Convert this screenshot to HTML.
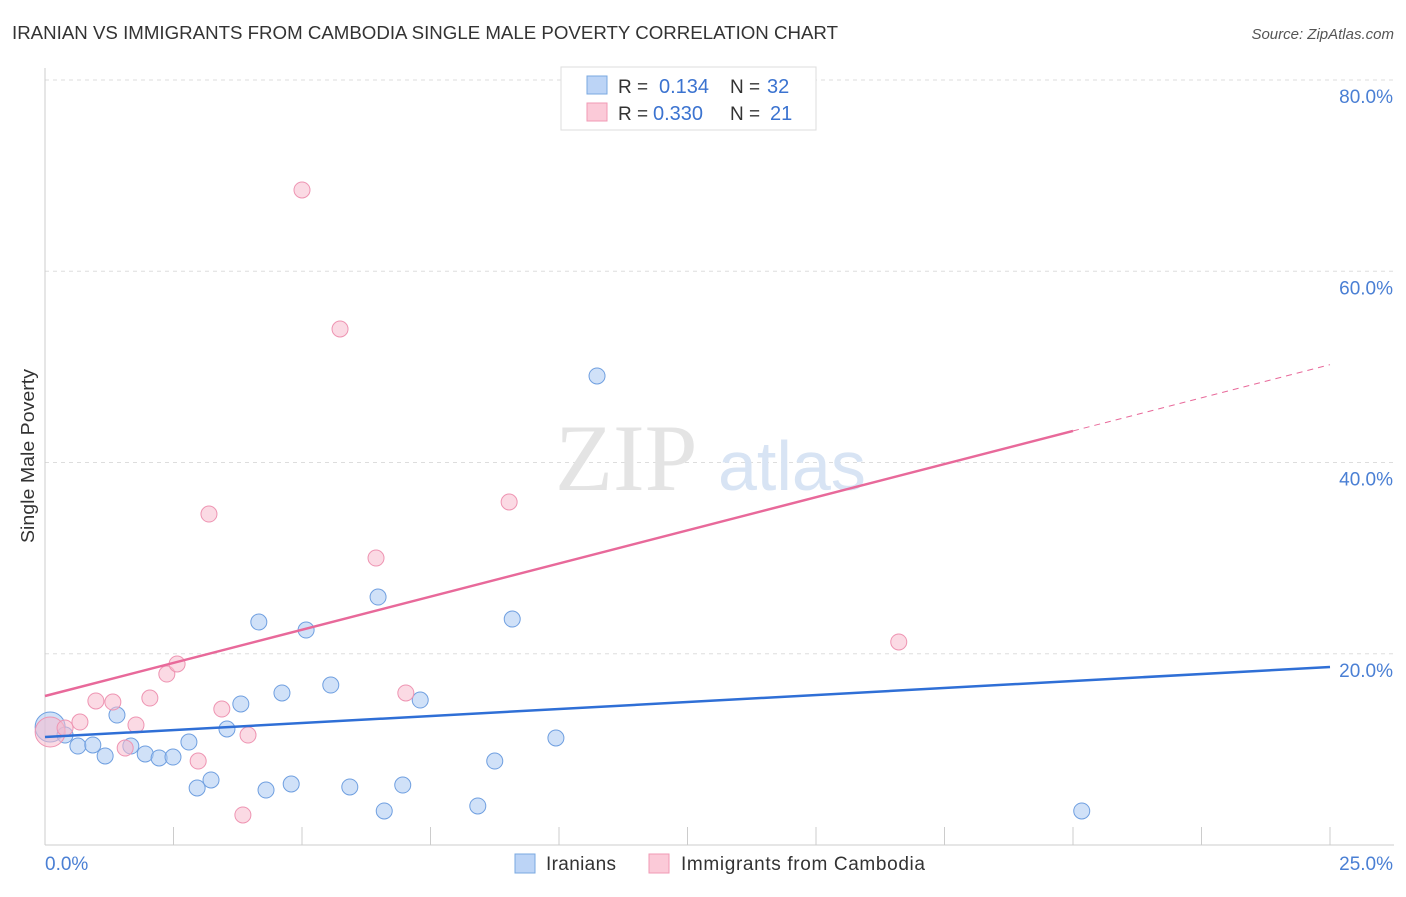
<!DOCTYPE html>
<html><head><meta charset="utf-8"><style>
body{margin:0;background:#fff;font-family:"Liberation Sans",sans-serif;}
</style></head><body>
<svg width="1406" height="892" xmlns="http://www.w3.org/2000/svg" style="font-family:'Liberation Sans',sans-serif">
<text x="12" y="39" font-size="18" fill="#333" textLength="826" lengthAdjust="spacingAndGlyphs">IRANIAN VS IMMIGRANTS FROM CAMBODIA SINGLE MALE POVERTY CORRELATION CHART</text>
<text x="1394" y="39" font-size="15" fill="#555" text-anchor="end" font-style="italic">Source: ZipAtlas.com</text>
<g id="grid"></g>
<line x1="45" y1="68" x2="45" y2="845" stroke="#ccc"/>
<line x1="45" y1="845" x2="1394" y2="845" stroke="#ccc"/>
<g id="ticks"></g>
<text x="34" y="456" font-size="18" fill="#333" text-anchor="middle" transform="rotate(-90 34 456)" textLength="174" lengthAdjust="spacingAndGlyphs">Single Male Poverty</text>
<text x="45" y="870" font-size="19" fill="#4a7fd4">0.0%</text>
<text x="1393" y="870" font-size="19" fill="#4a7fd4" text-anchor="end">25.0%</text>
<text x="555" y="490" font-size="95" fill="#e4e4e4" font-family="Liberation Serif,serif">ZIP</text>
<text x="718" y="490" font-size="70" fill="#d8e4f4">atlas</text>
<g id="pts"></g>
<g id="trend"></g>
<g>
<rect x="561" y="67" width="255" height="63" fill="#fff" stroke="#ddd"/>
<rect x="587" y="76" width="20" height="18" fill="#bcd4f6" stroke="#7aa8e0"/>
<rect x="587" y="103" width="20" height="18" fill="#fbcad8" stroke="#f09ab5"/>
<text x="618" y="93" font-size="19" fill="#333">R = </text><text x="659" y="93" font-size="20" fill="#3b73d0">0.134</text>
<text x="730" y="93" font-size="19" fill="#333">N = </text><text x="767" y="93" font-size="20" fill="#3b73d0">32</text>
<text x="618" y="120" font-size="19" fill="#333">R = </text><text x="653" y="120" font-size="20" fill="#3b73d0">0.330</text>
<text x="730" y="120" font-size="19" fill="#333">N = </text><text x="770" y="120" font-size="20" fill="#3b73d0">21</text>
</g>
<g>
<rect x="515" y="854" width="20" height="19" fill="#bcd4f6" stroke="#7aa8e0"/>
<text x="546" y="870" font-size="19" fill="#333" textLength="70">Iranians</text>
<rect x="649" y="854" width="20" height="19" fill="#fbcad8" stroke="#f09ab5"/>
<text x="681" y="870" font-size="19" fill="#333" textLength="244">Immigrants from Cambodia</text>
</g>
</svg>
<script>
const yTicks=[20,40,60,80];
const yTickLabels=["20.0%","40.0%","60.0%","80.0%"];
const blueX=[0.10,0.39,0.64,0.93,1.17,1.40,1.67,1.95,2.22,2.49,2.80,2.96,3.23,3.54,3.81,4.16,4.30,4.61,4.79,5.08,5.56,5.93,6.48,6.60,6.96,7.30,8.42,8.75,9.09,9.94,10.74,20.17];
const blueY=[12.34,11.50,10.35,10.46,9.31,13.59,10.35,9.52,9.10,9.20,10.77,5.96,6.80,12.13,14.75,23.32,5.75,15.90,6.38,22.48,16.73,6.07,25.93,3.56,6.27,15.16,4.08,8.78,23.63,11.19,49.05,3.56];
const pinkX=[0.10,0.39,0.68,0.99,1.32,1.56,1.77,2.04,2.37,2.57,2.98,3.19,3.44,3.85,3.95,5.00,5.74,6.44,7.02,9.03,16.61];
const pinkY=[11.82,12.24,12.86,15.06,14.95,10.14,12.55,15.37,17.88,18.93,8.78,34.61,14.22,3.14,11.50,68.50,53.96,30.01,15.90,35.87,21.23];
const blueTrend=[11.29,0.293];
const pinkTrend=[15.58,1.386];
const NS="http://www.w3.org/2000/svg";
const xs=v=>45+v/25*1285, ys=v=>845-v*9.5625;
function mk(t,a,p){const e=document.createElementNS(NS,t);for(const k in a)e.setAttribute(k,a[k]);document.getElementById(p).appendChild(e);return e;}
yTicks.forEach((v,i)=>{
 const l=mk('line',{x1:45,x2:1394,y1:ys(v),y2:ys(v),stroke:'#ddd','stroke-dasharray':'4,4'},'grid');
 
 
 const t=mk('text',{x:1393,y:ys(v)+23,'font-size':19,fill:'#4a7fd4','text-anchor':'end'},'grid');
 t.textContent=yTickLabels[i];
 
 
});
for(let i=1;i<=10;i++){
 const l=mk('line',{x1:xs(i*2.5),x2:xs(i*2.5),y1:827,y2:845,stroke:'#ccc'},'ticks');
 
 
}
function pts(X,Y,fill,stroke,name){
 X.forEach((x,i)=>{
  const c=mk('circle',{cx:xs(x),cy:ys(Y[i]),r:i==0?15:8,fill:fill,'fill-opacity':0.55,stroke:stroke,'stroke-width':1},'pts');
  
  
 });
}
pts(blueX,blueY,'#aac8f2','#6f9fe0','iranians-point');
pts(pinkX,pinkY,'#f8bccd','#ee94b2','cambodia-point');
let l=mk('line',{x1:xs(0),y1:ys(blueTrend[0]),x2:xs(25),y2:ys(blueTrend[0]+25*blueTrend[1]),stroke:'#2f6fd6','stroke-width':2.5},'trend');


l=mk('line',{x1:xs(0),y1:ys(pinkTrend[0]),x2:xs(20),y2:ys(pinkTrend[0]+20*pinkTrend[1]),stroke:'#e8699a','stroke-width':2.5},'trend');


l=mk('line',{x1:xs(20),y1:ys(pinkTrend[0]+20*pinkTrend[1]),x2:xs(25),y2:ys(pinkTrend[0]+25*pinkTrend[1]),stroke:'#e8699a','stroke-width':1,'stroke-dasharray':'6,5'},'trend');


</script>
</body></html>
